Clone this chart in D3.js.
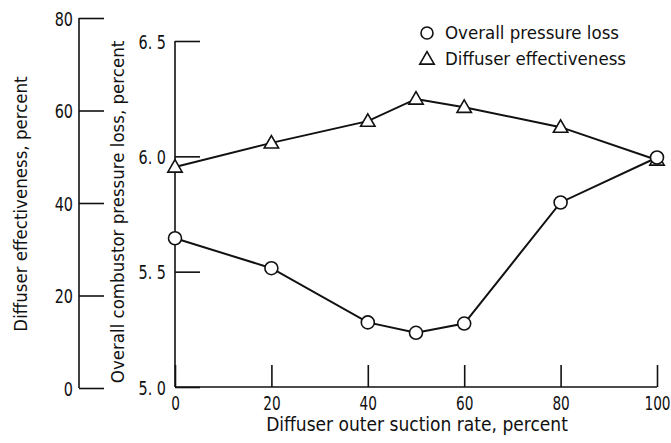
<!doctype html>
<html>
<head>
<script src="https://cdn.jsdelivr.net/npm/d3@7"></script>
<style>
html,body{margin:0;background:#fff;overflow:hidden;}
text{font-family:"DejaVu Sans Condensed",sans-serif;fill:#111;}
</style>
</head>
<body>
<script>
var suction = [0, 20, 40, 50, 60, 80, 100];
var pressureLoss = [5.645, 5.515, 5.28, 5.235, 5.275, 5.80, 5.995];
var effectiveness = [47.8, 53.0, 57.7, 62.5, 60.7, 56.4, 49.3];
var xTicks = [0, 20, 40, 60, 80, 100];
var lossTicks = [5.0, 5.5, 6.0, 6.5];
var effTicks = [0, 20, 40, 60, 80];

var w = 671, h = 443;
var svg = d3.select("body").append("svg").attr("width", w).attr("height", h);

var x = d3.scaleLinear().domain([0, 100]).range([175, 657]);
var yLoss = d3.scaleLinear().domain([5.0, 6.5]).range([387, 41]);
var yEff = d3.scaleLinear().domain([0, 80]).range([388, 18]);

var ink = "#111";
var sq = 0.8; // narrow the digits like the original lettering

// x axis: ticks point up
var gx = svg.append("g").attr("transform", "translate(0,387)")
    .call(d3.axisBottom(x).tickValues(xTicks).tickSize(-22).tickPadding(0).tickFormat(d3.format("d")));
gx.select(".domain").attr("d", "M175,0H657");
gx.selectAll(".tick text").attr("y", 23).attr("dy", 0).style("font-size", "19px")
    .attr("transform", "scale(" + sq + ",1)");

// pressure loss axis: ticks point right
var gl = svg.append("g").attr("transform", "translate(175,0)")
    .call(d3.axisLeft(yLoss).tickValues(lossTicks).tickSize(-25).tickPadding(10).tickFormat(function(d){ return d.toFixed(1).replace(".", ". "); }));
gl.select(".domain").attr("d", "M0,41V387");
gl.selectAll(".tick text").style("font-size", "20px").attr("x", -9 / sq).attr("dy", "0.35em")
    .attr("transform", "scale(" + sq + ",1)");

// effectiveness axis
var ge = svg.append("g").attr("transform", "translate(79,0)")
    .call(d3.axisLeft(yEff).tickValues(effTicks).tickSize(-25).tickPadding(3).tickFormat(d3.format("d")));
ge.select(".domain").attr("d", "M0,18V388");
ge.selectAll(".tick text").style("font-size", "20px").attr("x", -6 / sq).attr("dy", "0.35em")
    .attr("transform", "scale(" + sq + ",1)");

svg.selectAll(".domain").attr("stroke", ink).attr("stroke-width", 1.6);
svg.selectAll(".tick line").attr("stroke", ink).attr("stroke-width", 1.6);
svg.selectAll(".tick text").style("fill", ink).style("font-family", "DejaVu Sans Condensed");

// axis titles
svg.append("text").attr("transform", "translate(27,204) rotate(-90)")
    .attr("text-anchor", "middle").style("font-size", "18.5px").text("Diffuser effectiveness, percent");
svg.append("text").attr("transform", "translate(124,212) rotate(-90)")
    .attr("text-anchor", "middle").style("font-size", "18.5px").text("Overall combustor pressure loss, percent");
svg.append("text").attr("x", 417).attr("y", 431)
    .attr("text-anchor", "middle").style("font-size", "19px").text("Diffuser outer suction rate, percent");

var tri = d3.symbol().type(d3.symbolTriangle).size(90);

// lines
var lossLine = d3.line().x(function(d, i){ return x(suction[i]); }).y(function(d){ return yLoss(d); });
var effLine = d3.line().x(function(d, i){ return x(suction[i]); }).y(function(d){ return yEff(d); });

svg.append("path").attr("d", effLine(effectiveness)).attr("fill", "none").attr("stroke", ink).attr("stroke-width", 2);
svg.append("path").attr("d", lossLine(pressureLoss)).attr("fill", "none").attr("stroke", ink).attr("stroke-width", 2);

svg.selectAll(".tri").data(effectiveness).enter().append("path")
    .attr("transform", function(d, i){ return "translate(" + x(suction[i]) + "," + (yEff(d) + 1) + ")"; })
    .attr("d", tri).attr("fill", "#fff").attr("stroke", ink).attr("stroke-width", 1.6);

svg.selectAll(".circ").data(pressureLoss).enter().append("circle")
    .attr("cx", function(d, i){ return x(suction[i]); })
    .attr("cy", function(d){ return yLoss(d); })
    .attr("r", 6.5).attr("fill", "#fff").attr("stroke", ink).attr("stroke-width", 1.6);

// legend
var lg = svg.append("g");
lg.append("circle").attr("cx", 427).attr("cy", 33).attr("r", 6).attr("fill", "#fff").attr("stroke", ink).attr("stroke-width", 1.6);
lg.append("path").attr("transform", "translate(427,60)").attr("d", tri).attr("fill", "#fff").attr("stroke", ink).attr("stroke-width", 1.6);
lg.append("text").attr("x", 445).attr("y", 39).style("font-size", "18.5px").text("Overall pressure loss");
lg.append("text").attr("x", 445).attr("y", 65).style("font-size", "18.5px").text("Diffuser effectiveness");
</script>
</body>
</html>
